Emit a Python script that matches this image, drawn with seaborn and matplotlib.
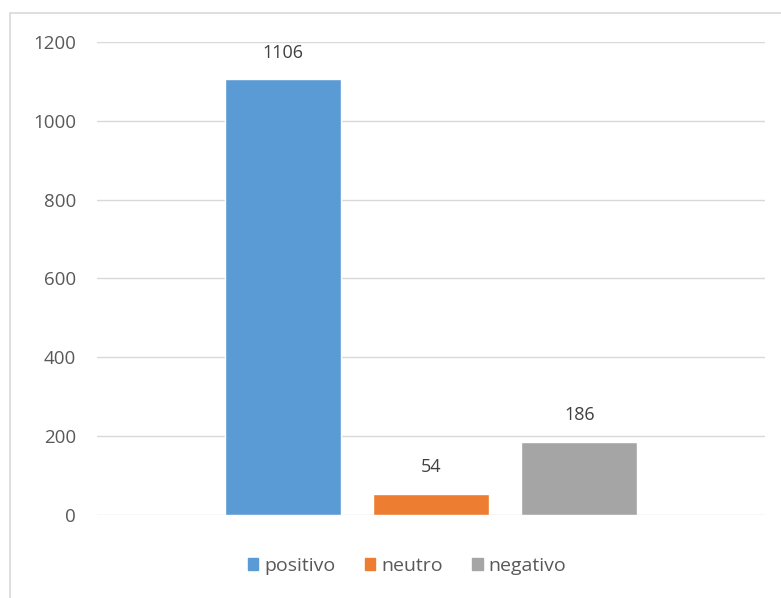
import pandas as pd
import matplotlib.pyplot as plt
import seaborn as sns
from matplotlib.patches import Rectangle

categories = ["positivo", "neutro", "negativo"]
values = [1106, 54, 186]
colors = ["#5B9BD5", "#ED7D31", "#A5A5A5"]

df = pd.DataFrame({"grupo": [""] * 3, "sentimento": categories, "n": values})

sns.set_style("white")
plt.rcParams["font.family"] = ["Open Sans", "DejaVu Sans"]

fig = plt.figure(figsize=(7.81, 5.98), dpi=100)
ax = fig.add_axes([0.124, 0.139, 0.856, 0.791])

sns.barplot(data=df, x="grupo", y="n", hue="sentimento", hue_order=categories,
            palette=colors, saturation=1, width=0.665, gap=0.215, legend=False, ax=ax)

ax.set_ylim(0, 1200)
ax.set_xlim(-0.5, 0.5)
ax.set_yticks(range(0, 1201, 200))
ax.grid(axis="y", color="#D9D9D9", linewidth=1)
ax.set_axisbelow(True)
for s in ax.spines.values():
    s.set_visible(False)
ax.tick_params(axis="y", length=0, pad=15, labelsize=13.5, labelcolor="#595959")
ax.tick_params(axis="x", length=0)
ax.set_xticklabels([])
ax.set_xlabel("")
ax.set_ylabel("")

for cont in ax.containers:
    for bar in cont:
        h = bar.get_height()
        ax.annotate(f"{int(round(h))}", (bar.get_x() + bar.get_width() / 2, h),
                    xytext=(0, 19), textcoords="offset points", ha="center",
                    va="center", fontsize=13, color="#404040")

handles = [Rectangle((0, 0), 1, 1, color=c) for c in colors]
fig.legend(handles, categories, loc="center", bbox_to_anchor=(407 / 781, 1 - 566 / 598),
           ncol=3, frameon=False, fontsize=14, labelcolor="#595959",
           handlelength=0.55, handleheight=0.55, handletextpad=0.3, columnspacing=1.5)

# chart border
fig.add_artist(Rectangle((10 / 781, -0.02), 1.1, 1 - 13 / 598 + 0.02,
                         transform=fig.transFigure, fill=False,
                         edgecolor="#D9D9D9", linewidth=1.2))

plt.savefig("out.png", dpi=100)
